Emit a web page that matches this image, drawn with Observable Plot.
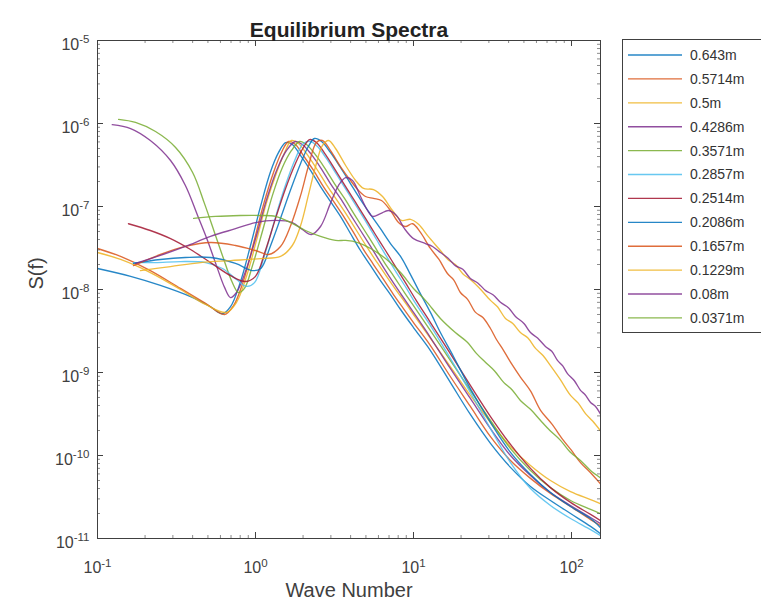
<!DOCTYPE html>
<html><head><meta charset="utf-8">
<script src="https://cdn.jsdelivr.net/npm/d3@7"></script>
<script src="https://cdn.jsdelivr.net/npm/@observablehq/plot@0.6"></script>
<style>
html,body{margin:0;padding:0;background:#fff;overflow:hidden;}
#wrap{position:relative;width:761px;height:610px;font-family:"Liberation Sans",Arial,sans-serif;}
#wrap svg{position:absolute;left:0;top:0;}
</style></head><body><div id="wrap"></div>
<script>
// ---- data: [wave number, S(f)] ----
const labels = ["0.643m","0.5714m","0.5m","0.4286m","0.3571m","0.2857m","0.2514m","0.2086m","0.1657m","0.1229m","0.08m","0.0371m"];

const d0643 = [[0.1,1.79e-8],[0.162,1.44e-8],[0.25,1.12e-8],[0.388,8.2e-9],[0.519,6.2e-9],[0.618,5.1e-9],[0.695,6.2e-9],[0.80,1.21e-8],[0.93,3.39e-8],[1.08,1.03e-7],[1.24,2.57e-7],[1.40,4.48e-7],[1.55,5.9e-7],[1.71,5.58e-7],[1.93,4.1e-7],[2.23,2.72e-7],[2.58,1.74e-7],[2.98,1.15e-7],[3.45,7.6e-8],[3.99,4.73e-8],[4.62,2.95e-8],[5.35,1.94e-8],[6.18,1.28e-8],[7.15,8.7e-9],[8.28,5.74e-9],[10,3.48e-9],[12.8,1.84e-9],[17.1,7.6e-10],[22.9,3.12e-10],[30.7,1.40e-10],[41.1,7.2e-11],[55,4.24e-11],[73.6,2.87e-11],[98.6,2.0e-11],[132,1.40e-11],[152,1.15e-11]];
const d05714 = [[0.1,3.12e-8],[0.14,2.5e-8],[0.216,1.69e-8],[0.335,1.03e-8],[0.483,6.8e-9],[0.637,5.0e-9],[0.726,6.4e-9],[0.84,1.28e-8],[0.971,3.58e-8],[1.12,1.03e-7],[1.30,2.57e-7],[1.46,4.48e-7],[1.62,6.07e-7],[1.79,5.58e-7],[2.01,4.1e-7],[2.33,2.72e-7],[2.69,1.74e-7],[3.12,1.15e-7],[3.61,7.6e-8],[4.17,4.87e-8],[4.83,3.03e-8],[5.58,2.0e-8],[6.46,1.32e-8],[7.47,8.7e-9],[8.64,5.9e-9],[10,4.0e-9],[12.8,2.11e-9],[17.1,8.95e-10],[22.9,3.9e-10],[30.7,1.69e-10],[41.1,8.7e-11],[55,5.3e-11],[73.6,3.48e-11],[98.6,2.43e-11],[132,1.69e-11],[152,1.44e-11]];
const d05 = [[0.1,2.79e-8],[0.14,2.3e-8],[0.216,1.6e-8],[0.335,1.0e-8],[0.483,6.6e-9],[0.655,5.3e-9],[0.758,7.0e-9],[0.877,1.44e-8],[1.015,3.9e-8],[1.17,1.09e-7],[1.36,2.57e-7],[1.53,4.48e-7],[1.69,6.24e-7],[1.87,5.74e-7],[2.10,4.36e-7],[2.43,2.87e-7],[2.81,1.84e-7],[3.26,1.21e-7],[3.77,8.0e-8],[4.36,5.14e-8],[5.04,3.3e-8],[5.83,2.17e-8],[6.75,1.44e-8],[7.80,9.7e-9],[9.03,6.6e-9],[10.4,4.48e-9],[12.8,2.57e-9],[17.1,1.18e-9],[22.9,5.3e-10],[30.7,2.5e-10],[41.1,1.28e-10],[55,7.6e-11],[73.6,5.0e-11],[98.6,3.68e-11],[132,2.95e-11],[152,2.64e-11]];
const d04286 = [[0.124,9.7e-7],[0.162,8.7e-7],[0.216,6.24e-7],[0.29,3.58e-7],[0.36,1.79e-7],[0.43,7.8e-8],[0.497,3.9e-8],[0.566,1.94e-8],[0.637,1.06e-8],[0.695,8.0e-9],[0.758,9.2e-9],[0.877,1.79e-8],[1.015,4.48e-8],[1.17,1.18e-7],[1.36,2.72e-7],[1.57,4.73e-7],[1.79,6.07e-7],[1.98,5.58e-7],[2.23,4.36e-7],[2.58,2.95e-7],[2.98,1.89e-7],[3.45,1.25e-7],[3.99,8.0e-8],[4.62,5.14e-8],[5.35,3.3e-8],[6.18,2.11e-8],[7.15,1.36e-8],[8.28,8.95e-9],[10,5.3e-9],[12.8,2.64e-9],[17.1,1.12e-9],[22.9,4.87e-10],[30.7,2.11e-10],[41.1,1.0e-10],[55,5.74e-11],[73.6,3.58e-11],[98.6,2.5e-11],[132,1.79e-11],[152,1.52e-11]];
const d03571 = [[0.136,1.12e-6],[0.174,1.03e-6],[0.233,8.0e-7],[0.312,5.14e-7],[0.40,2.57e-7],[0.475,1.09e-7],[0.55,4.87e-8],[0.627,2.36e-8],[0.705,1.28e-8],[0.78,9.2e-9],[0.851,1.03e-8],[0.957,1.94e-8],[1.11,5.14e-8],[1.28,1.36e-7],[1.48,2.95e-7],[1.69,4.73e-7],[1.90,6.07e-7],[2.10,5.58e-7],[2.36,4.36e-7],[2.73,2.95e-7],[3.16,1.89e-7],[3.66,1.25e-7],[4.23,8.0e-8],[4.90,5.14e-8],[5.67,3.3e-8],[6.55,2.11e-8],[7.58,1.40e-8],[8.77,9.2e-9],[10.4,5.74e-9],[12.8,3.2e-9],[17.1,1.4e-9],[22.9,6.1e-10],[30.7,2.64e-10],[41.1,1.21e-10],[55,6.6e-11],[73.6,4.1e-11],[98.6,2.87e-11],[132,2.24e-11],[152,2.0e-11]];
const d02857 = [[0.169,2.11e-8],[0.233,2.11e-8],[0.335,2.17e-8],[0.483,2.11e-8],[0.618,1.79e-8],[0.758,1.32e-8],[0.877,1.09e-8],[0.986,1.21e-8],[1.14,2.57e-8],[1.32,6.8e-8],[1.53,1.69e-7],[1.77,3.58e-7],[2.01,5.74e-7],[2.23,6.07e-7],[2.47,5.28e-7],[2.81,3.79e-7],[3.26,2.43e-7],[3.77,1.56e-7],[4.36,1.0e-7],[5.04,6.4e-8],[5.83,4.0e-8],[6.75,2.5e-8],[7.80,1.6e-8],[9.03,1.03e-8],[10.4,6.6e-9],[12.8,3.68e-9],[17.1,1.48e-9],[22.9,5.74e-10],[30.7,2.11e-10],[41.1,8.2e-11],[55,4.0e-11],[73.6,2.5e-11],[98.6,1.74e-11],[132,1.28e-11],[152,1.09e-11]];
const d02514 = [[0.157,6.2e-8],[0.216,5.14e-8],[0.29,4.1e-8],[0.388,3.03e-8],[0.519,2.11e-8],[0.695,1.47e-8],[0.865,1.25e-8],[1.0,1.44e-8],[1.156,2.95e-8],[1.34,7.2e-8],[1.55,1.65e-7],[1.79,3.3e-7],[2.01,5.14e-7],[2.20,6.4e-7],[2.43,5.9e-7],[2.77,4.24e-7],[3.21,2.72e-7],[3.72,1.74e-7],[4.30,1.12e-7],[4.97,7.2e-8],[5.74,4.6e-8],[6.65,2.95e-8],[7.69,1.89e-8],[8.89,1.21e-8],[10.4,7.4e-9],[12.8,4.0e-9],[17.1,1.69e-9],[22.9,7.0e-10],[30.7,2.95e-10],[41.1,1.36e-10],[55,7.0e-11],[73.6,4.1e-11],[98.6,2.72e-11],[132,1.95e-11],[152,1.65e-11]];
const d02086 = [[0.169,2.06e-8],[0.25,2.3e-8],[0.36,2.43e-8],[0.519,2.43e-8],[0.747,2.06e-8],[0.957,1.69e-8],[1.08,1.79e-8],[1.24,3.3e-8],[1.44,7.2e-8],[1.67,1.6e-7],[1.93,3.3e-7],[2.16,5.28e-7],[2.36,6.6e-7],[2.62,6.07e-7],[2.98,4.48e-7],[3.45,2.95e-7],[3.99,1.89e-7],[4.62,1.21e-7],[5.35,8.0e-8],[6.18,5.4e-8],[7.15,3.58e-8],[8.28,2.5e-8],[9.29,1.69e-8],[10.8,9.7e-9],[12.8,5.3e-9],[14.8,3.03e-9],[17.9,1.56e-9],[22.9,6.4e-10],[30.7,2.5e-10],[41.1,1.09e-10],[55,5.9e-11],[73.6,3.58e-11],[98.6,2.43e-11],[132,1.74e-11],[152,1.36e-11]];
const d01657 = [[0.169,1.94e-8],[0.25,2.64e-8],[0.36,3.3e-8],[0.519,3.68e-8],[0.747,3.39e-8],[1.0,2.95e-8],[1.21,2.64e-8],[1.44,3.3e-8],[1.67,5.9e-8],[1.93,1.36e-7],[2.16,3.03e-7],[2.43,5.9e-7],[2.65,6.24e-7],[2.98,4.73e-7],[3.45,3.03e-7],[3.99,2.06e-7],[4.49,1.56e-7],[4.97,1.32e-7],[5.58,1.25e-7],[6.27,1.18e-7],[7.15,8.95e-8],[8.04,6.4e-8],[8.89,5.74e-8],[9.86,6.2e-8],[11.07,4.87e-8],[12.8,3.12e-8],[14.5,2.3e-8],[16.4,1.56e-8],[18,1.3e-8],[19.8,9.2e-9],[22,7.6e-9],[24.7,5.3e-9],[27.5,4.6e-9],[30.7,3.39e-9],[33.5,2.5e-9],[37.2,1.84e-9],[42,1.25e-9],[47.5,8.8e-10],[55,6.0e-10],[63.7,3.5e-10],[75,2.4e-10],[88.9,1.52e-10],[100,1.15e-10],[114,8.2e-11],[132,6.2e-11],[152,4.6e-11]];
const d01229 = [[0.187,1.69e-8],[0.29,1.89e-8],[0.449,2.11e-8],[0.695,2.23e-8],[1.08,2.36e-8],[1.44,2.5e-8],[1.71,3.39e-8],[1.93,5.9e-8],[2.16,1.36e-7],[2.40,3.03e-7],[2.65,5.4e-7],[2.90,6.24e-7],[3.21,5.0e-7],[3.72,3.12e-7],[4.30,2.06e-7],[4.83,1.65e-7],[5.58,1.60e-7],[6.37,1.32e-7],[7.36,8.95e-8],[8.40,6.8e-8],[9.57,7.0e-8],[10.8,6.07e-8],[12.4,4.36e-8],[14.8,2.95e-8],[16.5,2.3e-8],[18.4,2.0e-8],[20.5,1.55e-8],[22.9,1.32e-8],[26,1.05e-8],[30.7,7.4e-9],[34,6.2e-9],[38.2,4.48e-9],[42.5,3.9e-9],[47.5,3.03e-9],[53,2.6e-9],[59.2,1.95e-9],[66,1.6e-9],[73.6,1.21e-9],[85,8.2e-10],[98.6,5.3e-10],[110,4.3e-10],[122.6,3.2e-10],[136,2.6e-10],[152,2.0e-10]];
const d008 = [[0.174,2.06e-8],[0.25,2.57e-8],[0.36,3.3e-8],[0.519,4.36e-8],[0.747,5.4e-8],[1.0,6.4e-8],[1.34,6.8e-8],[1.71,6.4e-8],[1.98,5.28e-8],[2.26,4.6e-8],[2.58,5.74e-8],[2.98,1.09e-7],[3.35,1.79e-7],[3.72,2.23e-7],[4.11,2.06e-7],[4.62,1.32e-7],[5.12,8.95e-8],[5.51,7.6e-8],[6.18,8.2e-8],[6.95,8.95e-8],[7.80,7.8e-8],[8.77,5.4e-8],[10,4.1e-8],[11.9,3.58e-8],[13.2,3.3e-8],[14.8,2.79e-8],[16.5,2.4e-8],[18.4,1.94e-8],[20.5,1.75e-8],[22.9,1.36e-8],[25.5,1.2e-8],[28.6,9.7e-9],[32,8.6e-9],[35.5,7.0e-9],[40,6.0e-9],[44.2,4.73e-9],[50,3.9e-9],[55,3.03e-9],[61,2.6e-9],[68.4,2.06e-9],[75,1.8e-9],[81.5,1.40e-9],[88,1.2e-9],[94.3,9.7e-10],[104,8.0e-10],[114,6.1e-10],[122,5.4e-10],[132,4.36e-10],[142,3.9e-10],[152,3.2e-10]];
const d00371 = [[0.406,7.2e-8],[0.558,7.6e-8],[0.80,7.8e-8],[1.08,7.8e-8],[1.34,7.6e-8],[1.67,6.4e-8],[2.07,5.14e-8],[2.58,4.36e-8],[3.21,3.9e-8],[3.72,3.9e-8],[4.43,3.68e-8],[5.35,3.12e-8],[6.65,2.36e-8],[8.28,1.6e-8],[10,1.03e-8],[11.9,7.4e-9],[14.8,4.48e-9],[18.4,3.03e-9],[22.0,2.3e-9],[25,1.7e-9],[28.6,1.32e-9],[32.5,1.05e-9],[37.2,7.6e-10],[42,6.2e-10],[47.5,4.6e-10],[55,3.6e-10],[63.7,2.64e-10],[73,2.0e-10],[85.2,1.52e-10],[98,1.1e-10],[114,8.7e-11],[132,6.6e-11],[152,5.4e-11]];

const series = [d0643,d05714,d05,d04286,d03571,d02857,d02514,d02086,d01657,d01229,d008,d00371];
const xTicks = [0.1, 1, 10, 100];
const yTicks = [1e-11, 1e-10, 1e-9, 1e-8, 1e-7, 1e-6, 1e-5];
const title = "Equilibrium Spectra", xLabel = "Wave Number", yLabel = "S(f)";

// ---- styling ----
const palette = ["#0072BD","#D95319","#EDB120","#7E2F8E","#77AC30","#4DBEEE","#A2142F"];
const colors = labels.map((_, i) => palette[i % palette.length]);
const W = 761, H = 610, mL = 97, mR = 161, mT = 40, mB = 72;
const pw = W - mL - mR, ph = H - mT - mB;
const axisCol = "#404040", font = "Liberation Sans, Arial, Helvetica, sans-serif";

const rows = labels.flatMap((name, i) => series[i].map(([k, s]) => ({name, k, s})));
const minorOf = (majors, max) => majors.flatMap(d => [2,3,4,5,6,7,8,9].map(m => m * d)).filter(v => v < max);
const xMinor = minorOf(xTicks, 152.6);
const yMinor = minorOf(yTicks.slice(0, -1), 1e-5);
const fmt = d => `10^${Math.round(Math.log10(d))}`;

const chart = Plot.plot({
  width: W, height: H, marginLeft: mL, marginRight: mR, marginTop: mT, marginBottom: mB,
  style: {fontFamily: font, color: axisCol, background: "#fff", overflow: "visible"},
  x: {type: "log", domain: [0.1, 152.6]},
  y: {type: "log", domain: [1e-11, 1e-5]},
  color: {domain: labels, range: colors},
  marks: [
    Plot.line(rows, {x: "k", y: "s", z: "name", stroke: "name", strokeWidth: 1.35, strokeOpacity: 0.85, curve: "catmull-rom", clip: true}),
    Plot.frame({stroke: axisCol, strokeWidth: 1}),
    Plot.ruleX(xTicks, {insetTop: ph - 6, stroke: axisCol}),
    Plot.ruleX(xTicks, {insetBottom: ph - 6, stroke: axisCol}),
    Plot.ruleX(xMinor, {insetTop: ph - 3, stroke: axisCol, strokeOpacity: 0.6}),
    Plot.ruleX(xMinor, {insetBottom: ph - 3, stroke: axisCol, strokeOpacity: 0.6}),
    Plot.ruleY(yTicks, {insetRight: pw - 6, stroke: axisCol}),
    Plot.ruleY(yTicks, {insetLeft: pw - 6, stroke: axisCol}),
    Plot.ruleY(yMinor, {insetRight: pw - 3, stroke: axisCol, strokeOpacity: 0.6}),
    Plot.ruleY(yMinor, {insetLeft: pw - 3, stroke: axisCol, strokeOpacity: 0.6}),
    Plot.axisX(xTicks, {anchor: "bottom", tickSize: 0, tickPadding: 23, tickFormat: fmt, fontSize: 16, label: null}),
    Plot.axisY(yTicks, {anchor: "left", tickSize: 0, tickPadding: 8, dy: 4, tickFormat: fmt, fontSize: 16, label: null}),
    Plot.text([title], {text: d => d, frameAnchor: "top", dy: -18, fontWeight: "bold", fontSize: 21, fill: "#222"}),
    Plot.text([xLabel], {text: d => d, frameAnchor: "bottom", dy: 58, fontSize: 20, fill: axisCol}),
    Plot.text([yLabel], {text: d => d, frameAnchor: "left", dx: -61, rotate: -90, fontSize: 20, fill: axisCol})
  ]
});

// superscript exponents on tick labels
d3.select(chart).selectAll("text").each(function () {
  const t = d3.select(this), s = t.text();
  if (!s.includes("^")) return;
  const [base, exp] = s.split("^");
  t.text(base);
  t.append("tspan").attr("dy", "-0.55em").attr("font-size", "0.72em").text(exp);
});

const wrap = document.getElementById("wrap");
wrap.appendChild(chart);

// legend (box to the right of the axes)
const lg = d3.select(wrap).append("svg").attr("width", W).attr("height", H)
  .style("pointer-events", "none").style("font-family", font);
const lx = 622, ly = 39, lh = 293, step = 23.9;
lg.append("rect").attr("x", lx + 0.5).attr("y", ly + 0.5).attr("width", 160).attr("height", lh)
  .attr("fill", "#fff").attr("stroke", axisCol);
labels.forEach((name, i) => {
  const y = ly + 16 + i * step;
  lg.append("line").attr("x1", lx + 6).attr("x2", lx + 60).attr("y1", y).attr("y2", y)
    .attr("stroke", colors[i]).attr("stroke-width", 1.35).attr("stroke-opacity", 0.85);
  lg.append("text").attr("x", lx + 68).attr("y", y).attr("dy", "0.35em")
    .attr("font-size", 14).attr("fill", "#333").text(name);
});
</script></body></html>
